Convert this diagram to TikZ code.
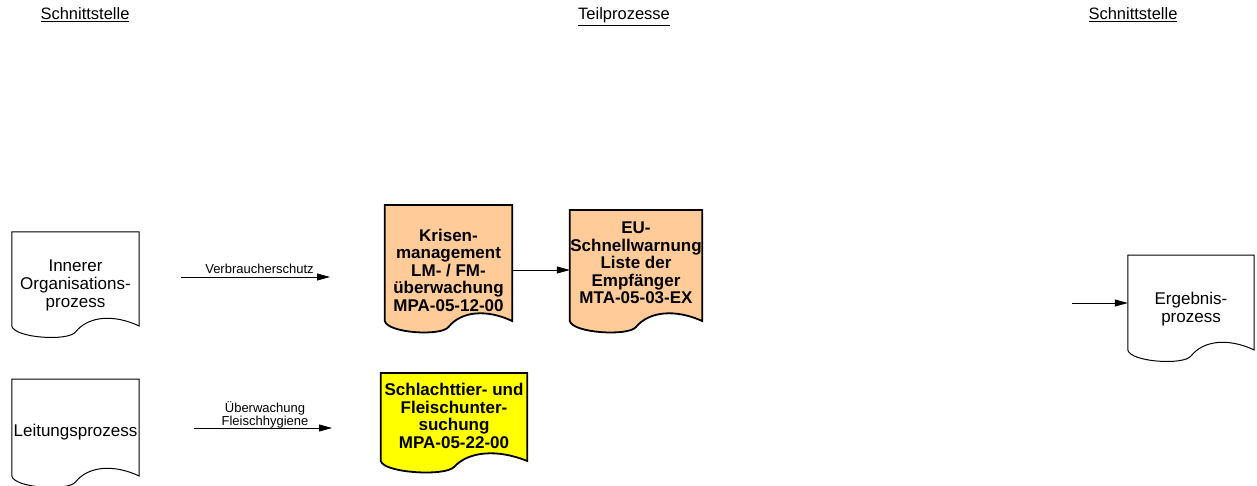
\documentclass[tikz,border=0pt]{standalone}
\usepackage{fontspec}
\setmainfont{Liberation Sans}
\usepackage{tikz}
\usetikzlibrary{arrows.meta,positioning,calc,backgrounds}

\definecolor{peach}{RGB}{255,204,153}
\definecolor{docyellow}{RGB}{255,255,0}

% document shape (wavy bottom) behind a node: #3 = top, #4 = side bottom
\newcommand{\docshape}[4]{%
  \begin{scope}[on background layer]
    \draw[#2] let \p1=(#1.west), \p2=(#1.east), \p3=(0,#3), \p4=(0,#4), \n1={\x2-\x1} in
      (\x1,\y3) -- (\x2,\y3) -- (\x2,\y4)
      .. controls (\x2-0.2*\n1,\y4+12pt) and (\x1+0.6*\n1,\y4+10pt) .. (\x1+0.5*\n1,\y4-6pt)
      .. controls (\x1+0.44*\n1,\y4-15.6pt) and (\x1+0.02*\n1,\y4-12pt) .. (\x1,\y4) -- cycle;
  \end{scope}}

\begin{document}
\begin{tikzpicture}[x=1pt, y=-1pt,
    plaindoc/.style={inner sep=0pt, align=center, font=\fontsize{17}{18}\selectfont},
    bolddoc/.style={inner sep=0pt, align=center, font=\fontsize{17}{17.5}\selectfont\bfseries},
    arr/.style={-{Triangle[length=13pt,width=7pt]}, line width=0.8pt},
    elabel/.style={font=\fontsize{13}{13.5}\selectfont, align=center, inner sep=1pt},
    head/.style={font=\fontsize{16.5}{18}\selectfont, anchor=base}]
    \useasboundingbox (0,0) rectangle (1257,486);

    % column headings
    \node[head] (lschnitt) at (85,20) {\underline{Schnittstelle}};
    \node[head] (teil) at (624,20) {\underline{Teilprozesse}};
    \node[head] (rschnitt) at (1133,20) {\underline{Schnittstelle}};

    % interface processes
    \node[plaindoc, minimum width=127pt] (inner) at (75.5,285) {Innerer\\Organisations-\\prozess};
    \node[plaindoc, minimum width=127pt] (leitung) at (75.5,432) {Leitungsprozess};
    \node[plaindoc, minimum width=126pt] (ergebnis) at (1191,309) {Ergebnis-\\prozess};

    % sub-processes
    \node[bolddoc, minimum width=127pt] (krisen) at (448.5,270) {Krisen-\\management\\LM- / FM-\\überwachung\\MPA-05-12-00};
    \node[bolddoc, minimum width=132pt] (eu) at (636,263) {EU-\\Schnellwarnung\\Liste der\\Empfänger\\MTA-05-03-EX};
    \node[bolddoc, minimum width=146pt] (schlacht) at (454,416) {Schlachttier- und\\Fleischunter-\\suchung\\MPA-05-22-00};

    \docshape{inner}{line width=1pt, fill=white}{232}{326}
    \docshape{leitung}{line width=1pt, fill=white}{379}{476}
    \docshape{ergebnis}{line width=1pt, fill=white}{255}{350}
    \docshape{krisen}{line width=1.8pt, fill=peach}{205}{321}
    \docshape{eu}{line width=1.8pt, fill=peach}{210}{321}
    \docshape{schlacht}{line width=1.8pt, fill=docyellow}{373}{461}

    % connectors
    \coordinate (v1) at (181,277);
    \coordinate (v2) at (330,277);
    \draw[arr] (v1) -- (v2) node[elabel, midway, above=2pt, xshift=4pt] {Verbraucherschutz};

    \coordinate (u1) at (194,428);
    \coordinate (u2) at (332,428);
    \draw[arr] (u1) -- (u2) node[elabel, midway, above, yshift=-2pt, xshift=2pt] {Überwachung\\Fleischhygiene};

    \draw[arr] (krisen.east) -- (krisen.east -| eu.west);

    \coordinate (e1) at (1072,303);
    \draw[arr] (e1) -- (e1 -| ergebnis.west);

\end{tikzpicture}
\end{document}
